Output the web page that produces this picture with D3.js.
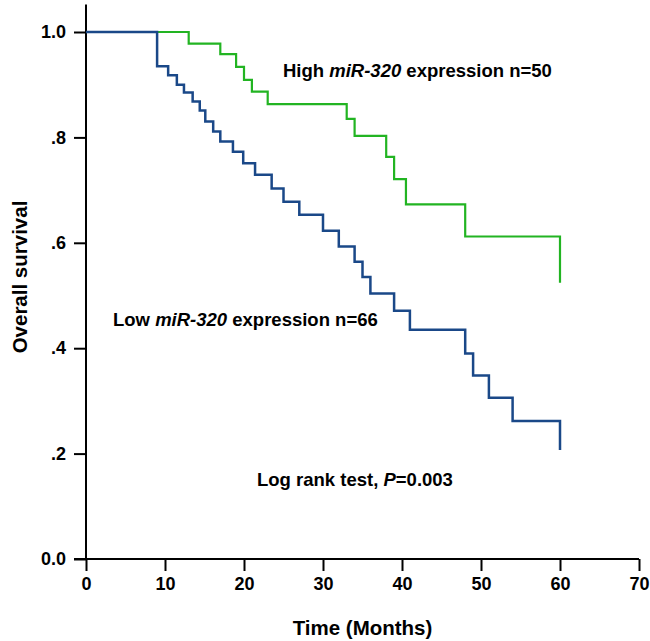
<!DOCTYPE html>
<html>
<head>
<meta charset="utf-8">
<script src="https://cdn.jsdelivr.net/npm/d3@7"></script>
<style>
  html, body { margin: 0; padding: 0; background: #fff; }
  svg { display: block; }
  text { font-family: Arial, "Liberation Sans", sans-serif; font-weight: bold; fill: #000; }
</style>
</head>
<body>
<svg id="chart" width="650" height="641"></svg>
<script>
// Data
const highTimes = [0, 13, 17, 19, 20, 21, 23, 33, 34, 38, 39, 40.5, 48, 60];
const highSurvival = [1, 0.978, 0.958, 0.934, 0.909, 0.887, 0.863, 0.835, 0.803, 0.763, 0.721, 0.673, 0.612, 0.524];

const lowTimes = [0, 9, 10.4, 11.5, 12.4, 13.5, 14.4, 15.1, 16.1, 17, 18.6, 19.9, 21.4, 23.5, 25, 27, 30, 32, 34, 35, 36, 39, 41, 48, 49, 51, 54, 60];
const lowSurvival = [1, 0.935, 0.918, 0.900, 0.885, 0.868, 0.851, 0.830, 0.811, 0.792, 0.773, 0.751, 0.729, 0.703, 0.678, 0.653, 0.623, 0.593, 0.564, 0.535, 0.504, 0.471, 0.435, 0.390, 0.348, 0.306, 0.262, 0.207];

const xTicks = [0, 10, 20, 30, 40, 50, 60, 70];
const yTicks = [0, 0.2, 0.4, 0.6, 0.8, 1.0];
const yTickLabels = ["0.0", ".2", ".4", ".6", ".8", "1.0"];

const svg = d3.select("#chart");
const x = d3.scaleLinear().domain([0, 70]).range([86, 639]);
const y = d3.scaleLinear().domain([0, 1]).range([559, 32]);

const FONT = "Arial, 'Liberation Sans', sans-serif";

// axes
const xAxis = d3.axisBottom(x).tickValues(xTicks).tickSize(12).tickSizeOuter(0).tickPadding(6).tickFormat(d3.format("d"));
const gx = svg.append("g").attr("transform", `translate(0,${y(0)})`).call(xAxis);
gx.select(".domain").remove();
gx.append("line").attr("x1", 74).attr("x2", x(70)).attr("y1", 0).attr("y2", 0)
  .attr("stroke", "#000").attr("stroke-width", 2);
gx.selectAll(".tick line").attr("stroke", "#000").attr("stroke-width", 2);
gx.selectAll(".tick text").attr("font-size", 18).attr("font-weight", "bold")
  .attr("font-family", FONT).attr("fill", "#000");

const yAxis = d3.axisLeft(y).tickValues(yTicks).tickSize(12).tickSizeOuter(0).tickPadding(8)
  .tickFormat((d, i) => yTickLabels[i]);
const gy = svg.append("g").attr("transform", `translate(${x(0)},0)`).call(yAxis);
gy.select(".domain").remove();
gy.append("line").attr("x1", 0).attr("x2", 0).attr("y1", y(0) + 1).attr("y2", y(1.052))
  .attr("stroke", "#000").attr("stroke-width", 2);
gy.selectAll(".tick line").attr("stroke", "#000").attr("stroke-width", 2);
gy.selectAll(".tick text").attr("font-size", 18).attr("font-weight", "bold")
  .attr("font-family", FONT).attr("fill", "#000");

// survival curves
const line = d3.line().x(d => x(d[0])).y(d => y(d[1])).curve(d3.curveStepAfter);

const highPts = highTimes.map((t, i) => [t, highSurvival[i]]);
const lowPts = lowTimes.map((t, i) => [t, lowSurvival[i]]);

svg.append("path").datum(highPts).attr("d", line)
  .attr("fill", "none").attr("stroke", "#22b422").attr("stroke-width", 2.2);
svg.append("path").datum(lowPts).attr("d", line)
  .attr("fill", "none").attr("stroke", "#1a4888").attr("stroke-width", 2.5);

// annotations
function label(xp, yp, parts) {
  const t = svg.append("text").attr("x", xp).attr("y", yp).attr("font-size", 18.5);
  parts.forEach(p => {
    t.append("tspan").text(p[0]).attr("font-style", p[1] ? "italic" : "normal");
  });
  return t;
}
label(283, 77, [["High ", false], ["miR-320", true], [" expression n=50", false]]);
label(113, 326, [["Low ", false], ["miR-320", true], [" expression n=66", false]]);
label(257, 486, [["Log rank test, ", false], ["P", true], ["=0.003", false]]);

// axis titles
svg.append("text").attr("x", (x(0) + x(70)) / 2).attr("y", 635)
  .attr("text-anchor", "middle").attr("font-size", 20.5).text("Time (Months)");
svg.append("text").attr("transform", `translate(27,277) rotate(-90)`)
  .attr("text-anchor", "middle").attr("font-size", 20.5).text("Overall survival");
</script>
</body>
</html>
